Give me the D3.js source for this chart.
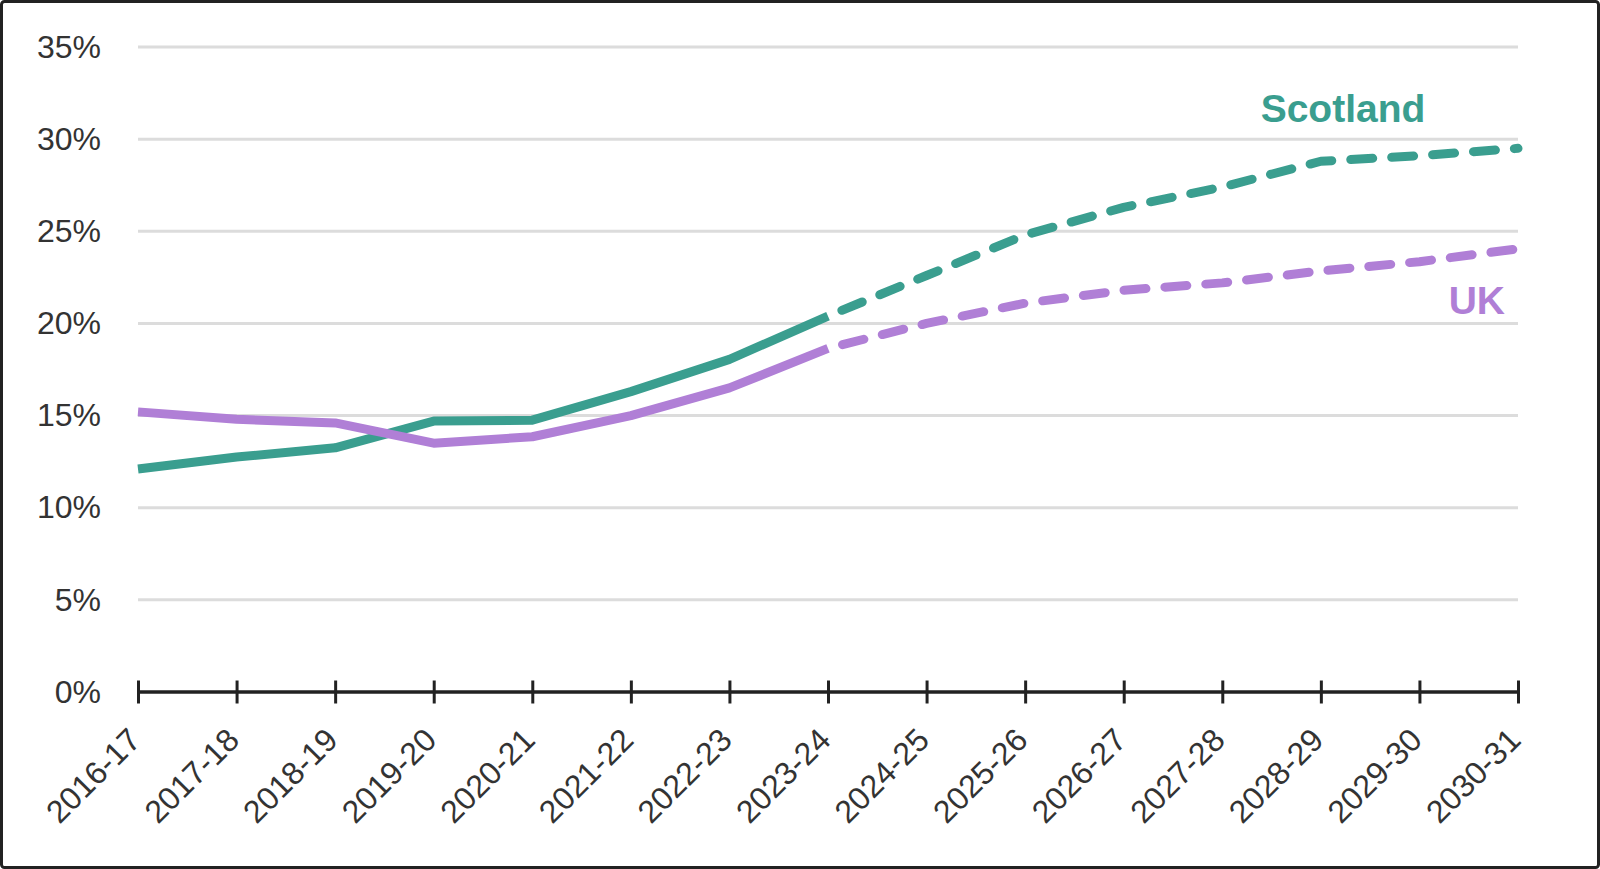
<!DOCTYPE html>
<html><head><meta charset="utf-8">
<script src="https://cdn.jsdelivr.net/npm/d3@7"></script>
<style>
html,body{margin:0;padding:0;background:#fff;}
svg{display:block;}
</style></head>
<body>
<script>
const years = ["2016-17","2017-18","2018-19","2019-20","2020-21","2021-22","2022-23","2023-24","2024-25","2025-26","2026-27","2027-28","2028-29","2029-30","2030-31"];
const scotland = [12.1,12.75,13.25,14.7,14.75,16.3,18.05,20.4,22.6,24.8,26.3,27.4,28.8,29.1,29.5];
const uk = [15.2,14.8,14.6,13.5,13.85,15.0,16.5,18.65,20.0,21.1,21.8,22.2,22.85,23.35,24.05];
const lastActual = "2023-24";
const yTicks = [0,5,10,15,20,25,30,35];
const seriesNames = ["Scotland","UK"];
const colors = ["#3a9e8f","#b07fd6"];

const W = 1600, H = 869;
const svg = d3.select("body").append("svg").attr("width", W).attr("height", H);

svg.append("rect").attr("x",1.5).attr("y",1.5).attr("width",W-3).attr("height",H-3)
  .attr("rx",3).attr("fill","#fff").attr("stroke","#222").attr("stroke-width",3);

const x = d3.scalePoint().domain(years).range([138,1518]);
const y = d3.scaleLinear().domain([0,35]).range([692,47]);

// grid
svg.append("g").selectAll("line").data(yTicks.filter(d=>d>0)).join("line")
  .attr("x1",138).attr("x2",1518).attr("y1",d=>y(d)).attr("y2",d=>y(d))
  .attr("stroke","#dcdcdc").attr("stroke-width",3);

// y axis labels
const yAxis = d3.axisLeft(y).tickValues(yTicks).tickFormat(d=>d+"%").tickSize(0).tickPadding(0);
const yg = svg.append("g").attr("transform","translate(101,0)").call(yAxis);
yg.select(".domain").remove();
yg.selectAll("text").attr("font-family","'Liberation Sans', Arial, sans-serif").attr("font-size",32).attr("fill","#333");

// x axis
const xAxis = d3.axisBottom(x).tickSize(0).tickPadding(0);
const xg = svg.append("g").attr("transform",`translate(0,${y(0)})`).call(xAxis);
xg.select(".domain").attr("stroke","#222").attr("stroke-width",3.5).attr("d",`M138,0H1518`);
xg.selectAll(".tick line").remove();
xg.selectAll(".tick").append("line").attr("y1",-11.5).attr("y2",11.5).attr("stroke","#222").attr("stroke-width",3);
xg.selectAll(".tick text")
  .attr("font-family","'Liberation Sans', Arial, sans-serif").attr("font-size",32).attr("fill","#333")
  .attr("text-anchor","end").attr("dy",null)
  .attr("transform","translate(4,50) rotate(-45)");

// lines
const idx = years.indexOf(lastActual);
const line = d3.line().x(d=>x(d[0])).y(d=>y(d[1]));
[scotland, uk].forEach((vals,i)=>{
  const pts = years.map((yr,j)=>[yr, vals[j]]);
  svg.append("path").attr("d", line(pts.slice(0, idx+1)))
    .attr("fill","none").attr("stroke",colors[i]).attr("stroke-width",9)
    .attr("stroke-linejoin","round").attr("stroke-linecap","butt");
  svg.append("path").attr("d", line(pts.slice(idx)))
    .attr("fill","none").attr("stroke",colors[i]).attr("stroke-width",9)
    .attr("stroke-linejoin","round").attr("stroke-linecap","round")
    .attr("stroke-dasharray","22,19").attr("stroke-dashoffset",-15);
});

// labels
svg.append("text").attr("x",1343).attr("y",122).attr("text-anchor","middle")
  .attr("font-family","'Liberation Sans', Arial, sans-serif").attr("font-weight","bold")
  .attr("font-size",39).attr("fill",colors[0]).text(seriesNames[0]);
svg.append("text").attr("x",1505).attr("y",314).attr("text-anchor","end")
  .attr("font-family","'Liberation Sans', Arial, sans-serif").attr("font-weight","bold")
  .attr("font-size",39).attr("fill",colors[1]).text(seriesNames[1]);
</script>
</body></html>
